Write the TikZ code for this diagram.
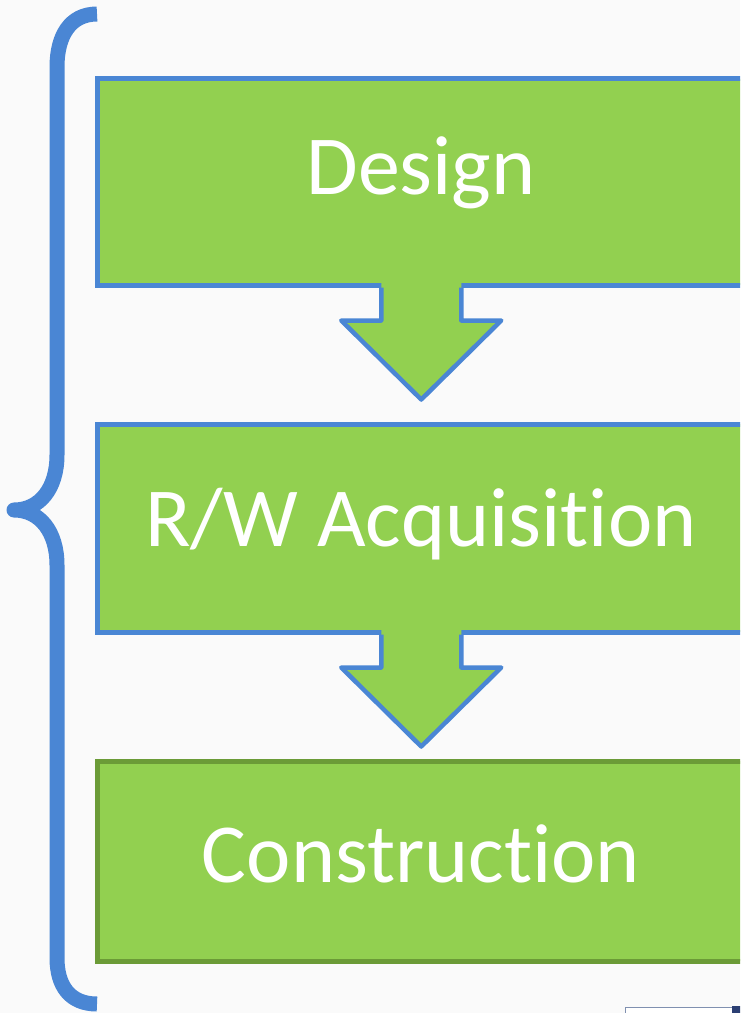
\documentclass[tikz,border=0pt]{standalone}
\usepackage{fontspec}
\setmainfont{Carlito}[Ligatures=NoCommon]
\usetikzlibrary{calc}
\definecolor{bgc}{HTML}{FAFAFA}
\definecolor{greenfill}{HTML}{92D050}
\definecolor{bluec}{HTML}{4A86D4}
\definecolor{darkgreen}{HTML}{6B9B37}
\definecolor{navyc}{HTML}{2B3F73}
\definecolor{greyblue}{HTML}{8090B0}
\begin{document}
\begin{tikzpicture}[x=1pt,y=-1pt,
  stagebox/.style={rectangle, fill=greenfill, line width=5pt, inner sep=0pt, minimum width=647.5pt},
  stagelabel/.style={anchor=base, text=white, inner sep=0pt, font=\fontsize{84}{90}\selectfont},
  arrowline/.style={draw=bluec, line width=4.5pt, line join=round},
  bracestyle/.style={draw=bluec, line width=15pt, line join=round, line cap=butt},
  pics/downarrow/.style={code={
    \fill[greenfill] (-40,-8) -- (-40,33) -- (-80,33) -- (0,112) -- (80,33) -- (40,33) -- (40,-8) -- cycle;
    \draw[arrowline] (-40,0) -- (-40,33) -- (-80,33) -- (0,112) -- (80,33) -- (40,33) -- (40,0);
  }}]
\useasboundingbox (0,0) rectangle (740,1013);
\clip (0,0) rectangle (740,1013);
\fill[bgc] (0,0) rectangle (740,1013);

% stage boxes
\node[stagebox, draw=bluec, minimum height=206.5pt] (design) at (421.25,181.75) {};
\node[stagebox, draw=bluec, minimum height=208pt] (rw) at (421.25,528) {};
\node[stagebox, draw=darkgreen, minimum height=200pt] (construction) at (421.25,861) {};

% block arrows
\pic at (design.south) {downarrow};
\pic at (rw.south) {downarrow};

% labels
\node[stagelabel] (designtext) at (421,194) {Design};
\node[stagelabel] (rwtext) at (421,546) {R/W Acquisition};
\node[stagelabel] (constructiontext) at (421,882) {Construction};

% brace
\draw[bracestyle] (97,14) .. controls (70,14) and (57,36) .. (57,67)
  -- (57,455) .. controls (57,488) and (40,510) .. (14,510)
  .. controls (40,510) and (57,532) .. (57,565)
  -- (57,958) .. controls (57,986) and (70,1004) .. (97,1004);

% partial element at bottom right
\filldraw[fill=white, draw=greyblue, line width=1pt] (625.5,1007.5) rectangle (732,1030);
\fill[navyc] (732,1006) rectangle (750,1030);
\end{tikzpicture}
\end{document}
